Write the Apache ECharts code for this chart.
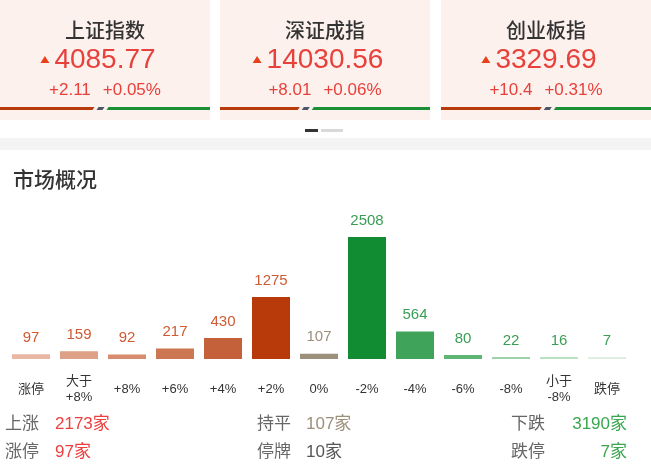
<!DOCTYPE html>
<html>
<head>
<meta charset="utf-8">
<script src="https://cdn.jsdelivr.net/npm/echarts@6/dist/echarts.min.js"></script>
<style>
html,body{margin:0;padding:0;background:#fff;}
#main{width:651px;height:476px;}
</style>
</head>
<body>
<div id="main"></div>
<script>
// ---- data ----
var indexNames = ['上证指数', '深证成指', '创业板指'];
var indexValues = ['4085.77', '14030.56', '3329.69'];
var indexChanges = ['+2.11', '+8.01', '+10.4'];
var indexPcts = ['+0.05%', '+0.06%', '+0.31%'];
var indexUpShare = [0.45, 0.38, 0.48];

var categories = ['涨停', '大于\n+8%', '+8%', '+6%', '+4%', '+2%', '0%', '-2%', '-4%', '-6%', '-8%', '小于\n-8%', '跌停'];
var counts = [97, 159, 92, 217, 430, 1275, 107, 2508, 564, 80, 22, 16, 7];

var statUp = 2173, statFlat = 107, statDown = 3190;
var statLimitUp = 97, statSuspended = 10, statLimitDown = 7;

// ---- styles ----
var barColors = ['#e9b6a3', '#dea086', '#d68c6d', '#cc7751', '#c4613a', '#b83a0a', '#9c8f7b',
                 '#118c33', '#3fa35a', '#5eb574', '#9ed3aa', '#b9e2c2', '#ddefe1'];
var labelColors = ['#cf5a34', '#cf5a34', '#cf5a34', '#cf5a34', '#cf5a34', '#cf5a34', '#9c8f7b',
                   '#3a9d55', '#3a9d55', '#3a9d55', '#3a9d55', '#3a9d55', '#3a9d55'];
var FONT = '"Liberation Sans", "Noto Sans CJK SC", sans-serif';
var RED = '#e8403a';

var mctx = document.createElement('canvas').getContext('2d');
function textW(str, size) { mctx.font = size + 'px "Liberation Sans", "Noto Sans CJK SC"'; return mctx.measureText(str).width; }

var graphics = [];
var cardX = [0, 220, 441], cardW = 210;
for (var i = 0; i < 3; i++) {
  var x0 = cardX[i], cx = x0 + cardW / 2;
  graphics.push({ type: 'rect', shape: { x: x0, y: 0, width: cardW, height: 120 }, style: { fill: '#fdf1ee' }, silent: true });
  graphics.push({ type: 'text', x: cx, y: 30, style: { text: indexNames[i], font: '500 20px "Noto Sans CJK SC", sans-serif', fill: '#333', align: 'center', verticalAlign: 'middle' } });
  graphics.push({ type: 'text', x: cx, y: 60, style: { text: indexValues[i], font: '28px ' + FONT, fill: RED, align: 'center', verticalAlign: 'middle' } });
  var w = textW(indexValues[i], 28);
  var tl = cx - w / 2 - 14;
  graphics.push({ type: 'polygon', shape: { points: [[tl, 63], [tl + 9, 63], [tl + 4.5, 56]] }, style: { fill: '#e8401a' } });
  var chg = indexChanges[i], pct = indexPcts[i];
  var w1 = textW(chg, 17), w2 = textW(pct, 17), gap = 12;
  var tot = w1 + gap + w2, sx = cx - tot / 2;
  graphics.push({ type: 'text', x: sx, y: 90, style: { text: chg, font: '17px ' + FONT, fill: RED, align: 'left', verticalAlign: 'middle' } });
  graphics.push({ type: 'text', x: sx + w1 + gap, y: 90, style: { text: pct, font: '17px ' + FONT, fill: RED, align: 'left', verticalAlign: 'middle' } });
  var rw = cardW * indexUpShare[i];
  graphics.push({ type: 'polygon', shape: { points: [[x0, 107], [x0 + rw, 107], [x0 + rw - 2, 110], [x0, 110]] }, style: { fill: '#b83a0a' } });
  graphics.push({ type: 'polygon', shape: { points: [[x0 + rw + 4, 107], [x0 + rw + 10, 107], [x0 + rw + 8, 110], [x0 + rw + 2, 110]] }, style: { fill: '#4d5566' } });
  graphics.push({ type: 'polygon', shape: { points: [[x0 + rw + 14, 107], [x0 + cardW, 107], [x0 + cardW, 110], [x0 + rw + 12, 110]] }, style: { fill: '#1a8f36' } });
}
// pagination
graphics.push({ type: 'rect', shape: { x: 305, y: 129, width: 13, height: 3 }, style: { fill: '#333' } });
graphics.push({ type: 'rect', shape: { x: 321, y: 129, width: 22, height: 3 }, style: { fill: '#d9d9d9' } });
// separator band
graphics.push({ type: 'rect', shape: { x: 0, y: 138, width: 651, height: 12 }, style: { fill: '#f4f4f4' } });
// section title
graphics.push({ type: 'text', x: 13, y: 179, style: { text: '市场概况', font: '500 21px "Noto Sans CJK SC", sans-serif', fill: '#333', align: 'left', verticalAlign: 'middle' } });

// stats rows
function statText(x, y, str, color, align) {
  graphics.push({ type: 'text', x: x, y: y, style: { text: str, font: '17px ' + FONT, fill: color, align: align || 'left', verticalAlign: 'middle' } });
}
statText(5, 424, '上涨', '#666');
statText(55, 424, statUp + '家', '#ee3e3e');
statText(257, 424, '持平', '#666');
statText(306, 424, statFlat + '家', '#9c8f7b');
statText(511, 424, '下跌', '#666');
statText(627, 424, statDown + '家', '#3aa64f', 'right');
statText(5, 452, '涨停', '#666');
statText(55, 452, statLimitUp + '家', '#ee3e3e');
statText(257, 452, '停牌', '#666');
statText(306, 452, statSuspended + '家', '#555');
statText(511, 452, '跌停', '#666');
statText(627, 452, statLimitDown + '家', '#3aa64f', 'right');

var barData = counts.map(function (v, k) {
  return { value: v, itemStyle: { color: barColors[k] }, label: { color: labelColors[k] } };
});

var chart = echarts.init(document.getElementById('main'), null, { renderer: 'canvas' });
chart.setOption({
  animation: false,
  backgroundColor: '#fff',
  grid: { left: 7, width: 624, top: 237, height: 122, containLabel: false },
  xAxis: {
    type: 'category', data: categories,
    axisLine: { show: false }, axisTick: { show: false },
    axisLabel: { margin: 30, verticalAlign: 'middle', lineHeight: 16, fontSize: 13, color: '#333', fontFamily: FONT, interval: 0 }
  },
  yAxis: { type: 'value', min: 0, max: 2508, show: false, splitLine: { show: false } },
  series: [{
    type: 'bar', data: barData, barWidth: 38, barMinHeight: 2,
    label: { show: true, position: 'top', distance: 9, fontSize: 15, fontFamily: FONT }
  }],
  graphic: graphics
});
</script>
</body>
</html>
